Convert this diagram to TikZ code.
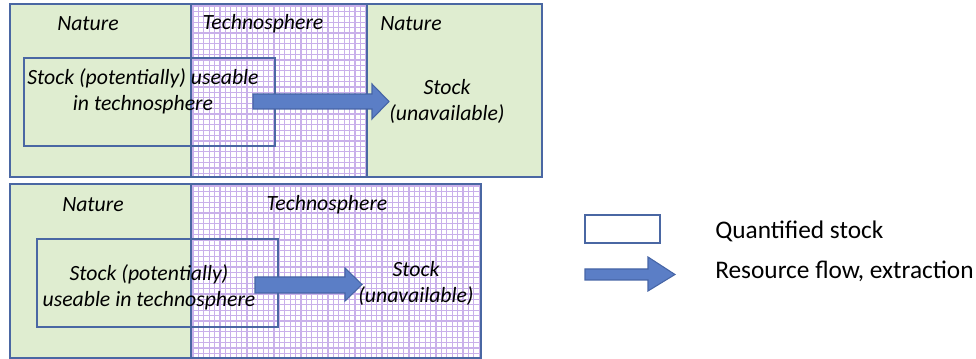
\documentclass[tikz,border=0pt]{standalone}
\usepackage{fontspec}
\setmainfont{Carlito}
\definecolor{natfill}{HTML}{DFEDD0}
\definecolor{gridcol}{HTML}{C9B0EA}
\definecolor{edgecol}{HTML}{4A67A3}
\definecolor{arrowfill}{HTML}{5B7EC6}
\definecolor{arrowedge}{HTML}{4665A6}
\tikzset{
  naturebox/.style={fill=natfill},
  gridline/.style={draw=gridcol, line width=1.0pt},
  boxedge/.style={draw=edgecol, line width=1.4pt},
  stockedge/.style={draw=edgecol, line width=1.9pt},
  flowarrow/.style={fill=arrowfill, draw=arrowedge, line width=0.8pt, line join=miter},
  lbl/.style={font=\fontsize{16.3}{19.5}\selectfont\itshape, align=center, inner sep=0pt},
  legtxt/.style={font=\fontsize{19}{22}\selectfont, anchor=west, inner sep=0pt},
}
\begin{document}
\begin{tikzpicture}[x=0.75pt,y=-0.75pt]
\useasboundingbox (0,0) rectangle (976,359);
% ---------- top panel ----------
\fill[naturebox] (10,4) rectangle (191,177);
\fill[naturebox] (367,4) rectangle (542,177);
\fill[white] (191,4) rectangle (367,177);
\begin{scope}
\clip (191,4) rectangle (367,177);
\foreach \gx in {193,198.4,...,370} \draw[gridline] (\gx,4) -- (\gx,177);
\foreach \gy in {6,11.4,...,180} \draw[gridline] (191,\gy) -- (367,\gy);
\end{scope}
\draw[boxedge] (10,4) rectangle (191,177);
\draw[boxedge] (191,4) rectangle (367,177);
\draw[boxedge] (367,4) rectangle (542,177);
\draw[stockedge] (24,58) rectangle (275,146);
\draw[flowarrow] (253,94) -- (372,94) -- (372,84) -- (389,101.5) -- (372,119) -- (372,109) -- (253,109) -- cycle;
\node[lbl] (n1) at (88,24) {Nature};
\node[lbl] (t1) at (263,24) {Technosphere};
\node[lbl] (n2) at (411,24) {Nature};
\node[lbl] (s1) at (143,91) {Stock (potentially) useable\\in technosphere};
\node[lbl] (u1) at (447,101) {Stock\\(unavailable)};
% ---------- bottom panel ----------
\fill[naturebox] (10,184) rectangle (191,358);
\fill[white] (191,184) rectangle (481,358);
\begin{scope}
\clip (191,184) rectangle (481,358);
\foreach \gx in {193,198.4,...,484} \draw[gridline] (\gx,184) -- (\gx,358);
\foreach \gy in {186,191.4,...,360} \draw[gridline] (191,\gy) -- (481,\gy);
\end{scope}
\draw[boxedge] (10,184) rectangle (191,358);
\draw[boxedge] (191,184) rectangle (481,358);
\draw[stockedge] (37,239) rectangle (278,327);
\draw[flowarrow] (255,277) -- (345,277) -- (345,268) -- (362,284.5) -- (345,301) -- (345,293) -- (255,293) -- cycle;
\node[lbl] (n3) at (93,205) {Nature};
\node[lbl] (t2) at (327,205) {Technosphere};
\node[lbl] (s2) at (149,287) {Stock (potentially)\\useable in technosphere};
\node[lbl] (u2) at (416,283) {Stock\\(unavailable)};
% ---------- legend ----------
\draw[stockedge, fill=white] (585,215) rectangle (660,243);
\draw[flowarrow] (585,269) -- (648,269) -- (648,257) -- (675,274.5) -- (648,291) -- (648,280) -- (585,280) -- cycle;
\node[legtxt] (q) at (715,231) {Quantified stock};
\node[legtxt] (r) at (715,271) {Resource flow, extraction};
\end{tikzpicture}
\end{document}
